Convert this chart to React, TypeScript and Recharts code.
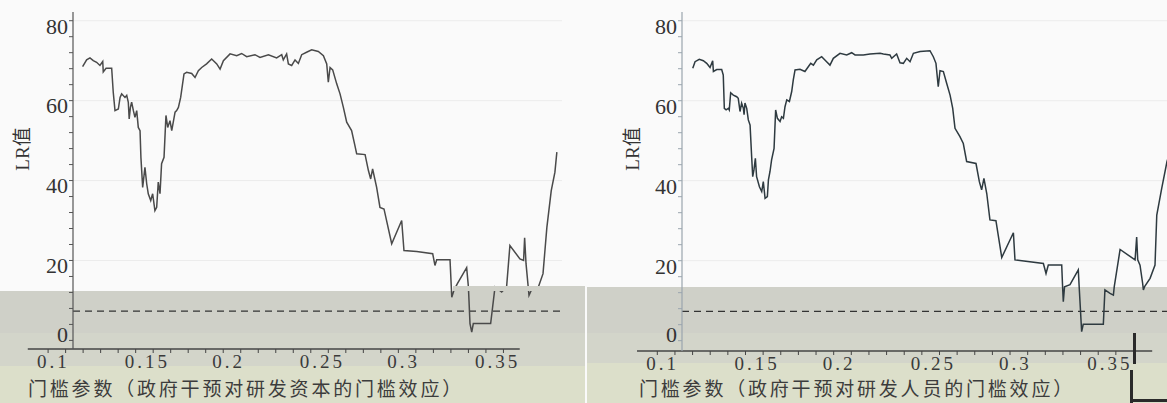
import React from "react";
import { LineChart, Line, XAxis, YAxis, CartesianGrid, ReferenceLine } from "recharts";

// 政府干预对研发资本的门槛效应：门槛参数与 LR 值
const capitalGamma = [
  0.1197, 0.122, 0.1239, 0.1258, 0.1277, 0.1296, 0.1312, 0.1315, 0.1331, 0.1363,
  0.1372, 0.1382, 0.1401, 0.1411, 0.142, 0.1439, 0.1449, 0.1458, 0.1463, 0.147,
  0.1477, 0.1487, 0.1496, 0.1506, 0.1515, 0.1525, 0.153, 0.154, 0.1553, 0.1563,
  0.1572, 0.1586, 0.1597, 0.161, 0.162, 0.1629, 0.1639, 0.1648, 0.1662, 0.1673,
  0.1683, 0.1696, 0.1706, 0.1725, 0.1734, 0.1744, 0.1757, 0.1776, 0.1791, 0.182,
  0.1839, 0.1858, 0.1877, 0.1905, 0.1934, 0.1963, 0.1982, 0.2001, 0.2039, 0.2077,
  0.2105, 0.2134, 0.2181, 0.221, 0.2258, 0.2305, 0.2334, 0.2343, 0.2362, 0.2372,
  0.2391, 0.241, 0.2429, 0.2448, 0.2476, 0.2505, 0.2543, 0.2572, 0.2591, 0.26,
  0.261, 0.2625, 0.2648, 0.2667, 0.2686, 0.2705, 0.2733, 0.2752, 0.2762, 0.281,
  0.2829, 0.2842, 0.2853, 0.2876, 0.2895, 0.2918, 0.2962, 0.3019, 0.3032, 0.3105,
  0.3196, 0.3209, 0.3219, 0.3295, 0.3305, 0.3318, 0.3337, 0.339, 0.34, 0.3409,
  0.3419, 0.3428, 0.3527, 0.3552, 0.359, 0.3618, 0.3637, 0.3694, 0.3715, 0.3721,
  0.3729, 0.3746, 0.3767, 0.3799, 0.3826, 0.3848, 0.3873, 0.3894, 0.3905,
];
const capitalLR = [
  68.5, 70.2, 70.7, 70.0, 69.6, 68.8, 69.8, 67.2, 68.1, 68.1,
  62.1, 57.5, 57.9, 60.8, 61.7, 60.8, 61.3, 59.6, 55.4, 58.3,
  59.6, 57.5, 55.8, 57.5, 53.3, 52.5, 45.8, 38.3, 43.3, 39.2,
  36.7, 35.0, 36.7, 32.5, 33.3, 39.6, 36.7, 44.2, 45.8, 56.3,
  53.3, 55.0, 52.5, 57.1, 57.5, 58.3, 60.8, 66.7, 67.1, 66.8,
  65.8, 67.5, 68.3, 69.2, 70.4, 69.2, 67.9, 70.0, 71.7, 71.25,
  71.8, 71.0, 71.5, 70.8, 71.5, 70.7, 71.5, 70.2, 71.7, 69.2,
  68.8, 70.2, 69.3, 71.5, 72.1, 72.7, 72.3, 71.25, 69.2, 64.6,
  68.3, 67.7, 64.2, 61.7, 58.3, 54.6, 52.5, 48.75, 46.7, 46.5,
  42.5, 40.4, 42.9, 38.3, 33.3, 32.9, 24.2, 30.0, 22.5, 22.25,
  21.7, 18.75, 20.2, 20.2, 10.8, 12.6, 14.2, 18.2, 13.4, 4.2,
  2.1, 4.2, 4.2, 13.4, 12.1, 13.4, 23.75, 20.4, 20.0, 25.7,
  19.2, 11.25, 13.3, 13.3, 16.7, 28.3, 37.5, 42.1, 47.1,
];

// 政府干预对研发人员的门槛效应：门槛参数与 LR 值
const staffGamma = [
  0.1201, 0.1214, 0.1238, 0.1261, 0.128, 0.1299, 0.1314, 0.1318, 0.1337, 0.1365,
  0.1374, 0.138, 0.139, 0.1403, 0.1408, 0.1416, 0.1431, 0.145, 0.1459, 0.1469,
  0.1478, 0.1488, 0.1492, 0.1497, 0.1507, 0.1516, 0.1526, 0.1535, 0.1541, 0.1548,
  0.1556, 0.1563, 0.1579, 0.1592, 0.1601, 0.1611, 0.1624, 0.163, 0.1639, 0.1648,
  0.1662, 0.1671, 0.1681, 0.1696, 0.1705, 0.1715, 0.1724, 0.1734, 0.1749, 0.1762,
  0.1771, 0.1781, 0.1809, 0.1837, 0.1856, 0.187, 0.1885, 0.1904, 0.1932, 0.196,
  0.1979, 0.1998, 0.2036, 0.2074, 0.2102, 0.2121, 0.2168, 0.2206, 0.2263, 0.2282,
  0.2319, 0.2329, 0.2357, 0.2376, 0.2395, 0.2414, 0.2433, 0.2452, 0.249, 0.2546,
  0.2565, 0.258, 0.2593, 0.2603, 0.2622, 0.2641, 0.266, 0.2675, 0.2688, 0.2716,
  0.2735, 0.2754, 0.2807, 0.2826, 0.2839, 0.2852, 0.2868, 0.2886, 0.292, 0.2953,
  0.3019, 0.3028, 0.3189, 0.3204, 0.3217, 0.3293, 0.3298, 0.3302, 0.3309, 0.334,
  0.3387, 0.3392, 0.3406, 0.3415, 0.3529, 0.3538, 0.3567, 0.3586, 0.3591, 0.3624,
  0.3709, 0.3718, 0.3724, 0.3737, 0.3752, 0.3756, 0.3763, 0.3794, 0.3822, 0.3832,
  0.386, 0.389, 0.3915,
];
const staffLR = [
  68.1, 69.75, 70.35, 70.0, 69.35, 68.3, 70.0, 67.3, 67.8, 67.8,
  66.4, 58.1, 57.7, 58.1, 57.7, 62.0, 61.4, 61.0, 60.6, 57.3,
  59.4, 58.1, 56.5, 59.4, 58.1, 55.2, 53.9, 46.0, 41.0, 42.7,
  45.6, 41.0, 38.5, 37.3, 39.8, 35.6, 36.0, 40.2, 42.3, 45.2,
  48.1, 57.7, 55.6, 54.8, 56.0, 55.6, 58.5, 60.2, 59.8, 62.3,
  65.2, 67.7, 67.85, 67.3, 68.5, 69.35, 68.9, 70.2, 71.0, 69.75,
  68.9, 70.6, 71.85, 71.45, 72.0, 71.45, 71.45, 71.7, 71.85, 71.7,
  71.45, 70.6, 71.7, 69.5, 69.35, 70.6, 69.75, 71.85, 72.3, 72.5,
  71.0, 69.35, 63.5, 67.5, 67.3, 64.3, 61.4, 58.1, 53.1, 51.0,
  49.3, 44.8, 44.3, 39.75, 37.7, 40.6, 36.8, 30.2, 30.0, 20.8,
  27.0, 20.2, 19.3, 16.8, 18.9, 18.9, 13.5, 9.75, 13.5, 14.0,
  17.7, 13.5, 2.25, 4.1, 4.1, 12.7, 11.85, 11.4, 13.5, 22.8,
  20.2, 25.9, 20.2, 18.9, 14.3, 12.7, 13.5, 15.6, 18.9, 31.4,
  38.1, 44.8, 48.5,
];

const xTicks = [
  0.1, 0.11, 0.12, 0.13, 0.14, 0.15, 0.16, 0.17, 0.18, 0.19, 0.2, 0.21, 0.22, 0.23,
  0.24, 0.25, 0.26, 0.27, 0.28, 0.29, 0.3, 0.31, 0.32, 0.33, 0.34, 0.35, 0.36,
];
const xLabelTicks = [0.1, 0.15, 0.2, 0.25, 0.3, 0.35];
const yTicks = [0, 4, 8, 12, 16, 20, 24, 28, 32, 36, 40, 44, 48, 52, 56, 60, 64, 68, 72, 76, 80];
const yLabelTicks = [0, 20, 40, 60, 80];
const gridValues = [20, 40, 60, 80];
const criticalValue = 7.35;

const serif = "'Liberation Serif', 'DejaVu Serif', serif";
const cjk = "'Noto Sans CJK SC', 'Noto Sans', sans-serif";

// y 轴刻度文字：扫描件里数字略低于刻度，0 则略高
function YTick(props: any) {
  const { x, y, payload } = props;
  const v = payload.value;
  if (!yLabelTicks.includes(v)) return null;
  const shift = v === 0 ? -6 : 5;
  return (
    <text x={x} y={y + shift} dy="0.355em" textAnchor="end" fill="#333" fontSize={22} fontFamily={serif}>
      {String(v)}
    </text>
  );
}

type PanelProps = {
  gamma: number[];
  lr: number[];
  title: string;
  left: number;
  width: number;
  yAxisWidth: number;
  rightMargin: number;
  bottomMargin: number;
  xDomain: [number, number];
  yDomain: [number, number];
  axisSpan: [number, number];
  lineColor: string;
  yAxisColor: string;
  bandTop: number;
  greenTop: number;
  labelX: number;
  titleX: number;
};

function ThresholdPanel(p: PanelProps) {
  const data = p.gamma.map((g, i) => ({ gamma: g, lr: p.lr[i] }));
  return (
    <>
      <div
        style={{
          position: "absolute",
          left: p.left,
          top: 0,
          width: p.left === 0 ? 585 : 1167 - p.left,
          height: 403,
          background: `linear-gradient(to bottom, #fafafa 0px, #fafafa ${p.bandTop}px, #cfd0c8 ${p.bandTop}px, #cfd0c8 333px, #d3d5ca 333px, #d3d5ca ${p.greenTop}px, #dcdfca ${p.greenTop}px)`,
        }}
      />
      <div style={{ position: "absolute", left: p.left, top: 0 }}>
        <LineChart
          width={p.width}
          height={403}
          data={data}
          margin={{ top: 12, right: p.rightMargin, bottom: p.bottomMargin, left: 0 }}
        >
          <CartesianGrid horizontal vertical={false} horizontalValues={gridValues} stroke="#ececec" />
          <XAxis
            dataKey="gamma"
            type="number"
            domain={p.xDomain}
            allowDataOverflow
            ticks={xTicks}
            interval={0}
            height={30}
            axisLine={false}
            tickSize={4}
            tickMargin={2}
            tickLine={{ stroke: "#444" }}
            tickFormatter={(v: number) => (xLabelTicks.includes(v) ? String(v) : "")}
            tick={{ fill: "#3a3a3a", fontSize: 19, fontFamily: serif, letterSpacing: 3, textAnchor: "start", dx: -11 }}
          />
          <YAxis
            type="number"
            domain={p.yDomain}
            allowDataOverflow
            ticks={yTicks}
            interval={0}
            width={p.yAxisWidth}
            tickSize={4}
            tickMargin={1}
            axisLine={{ stroke: p.yAxisColor, strokeWidth: 1.2 }}
            tickLine={{ stroke: p.yAxisColor }}
            tick={<YTick />}
          />
          <ReferenceLine
            segment={[
              { x: p.axisSpan[0], y: p.yDomain[0] },
              { x: p.axisSpan[1], y: p.yDomain[0] },
            ]}
            stroke="#444"
            strokeWidth={1.5}
            ifOverflow="visible"
          />
          <ReferenceLine y={criticalValue} stroke="#333" strokeWidth={1.3} strokeDasharray="7 5" />
          <Line
            type="linear"
            dataKey="lr"
            stroke={p.lineColor}
            strokeWidth={1.5}
            dot={false}
            isAnimationActive={false}
          />
        </LineChart>
      </div>
      <div
        style={{
          position: "absolute",
          left: p.labelX - 30,
          top: 149 - 12,
          width: 60,
          height: 24,
          lineHeight: "24px",
          textAlign: "center",
          transform: "rotate(-90deg)",
          fontFamily: `${serif}, ${cjk}`,
          fontSize: 19,
          color: "#333",
          whiteSpace: "nowrap",
        }}
      >
        LR值
      </div>
      <div
        style={{
          position: "absolute",
          left: p.titleX,
          top: 378,
          fontFamily: cjk,
          fontSize: 19,
          lineHeight: "20px",
          letterSpacing: 2.8,
          color: "#3c3c3c",
          whiteSpace: "nowrap",
        }}
      >
        {p.title}
      </div>
    </>
  );
}

export default function App() {
  return (
    <div
      style={{
        position: "absolute",
        left: 0,
        top: 0,
        width: 1167,
        height: 403,
        overflow: "hidden",
        background: "#fafafa",
      }}
    >
      <ThresholdPanel
        gamma={capitalGamma}
        lr={capitalLR}
        title="门槛参数（政府干预对研发资本的门槛效应）"
        left={0}
        width={583}
        yAxisWidth={73}
        rightMargin={21}
        bottomMargin={24}
        xDomain={[0.11422, 0.39344]}
        yDomain={[-2.15, 82.18]}
        axisSpan={[0.0884, 0.3693]}
        lineColor="#4a4a4a"
        yAxisColor="#555"
        bandTop={291}
        greenTop={366}
        labelX={23}
        titleX={28}
      />
      <div style={{ position: "absolute", left: 453, top: 286, width: 132, height: 5, background: "#cfd0c8" }} />
      <ThresholdPanel
        gamma={staffGamma}
        lr={staffLR}
        title="门槛参数（政府干预对研发人员的门槛效应）"
        left={587}
        width={603}
        yAxisWidth={95}
        rightMargin={0}
        bottomMargin={22}
        xDomain={[0.114, 0.40204]}
        yDomain={[-2.58, 82.18]}
        axisSpan={[0.0885, 0.3806]}
        lineColor="#2e3a40"
        yAxisColor="#9aa5ae"
        bandTop={287}
        greenTop={363}
        labelX={633}
        titleX={639}
      />
      <div style={{ position: "absolute", left: 1133, top: 333, width: 3, height: 31, background: "#2a2a2a" }} />
      <div style={{ position: "absolute", left: 1130, top: 370, width: 3, height: 33, background: "#2a2a2a" }} />
      <div style={{ position: "absolute", left: 1130, top: 399, width: 37, height: 3, background: "#2a2a2a" }} />
    </div>
  );
}
